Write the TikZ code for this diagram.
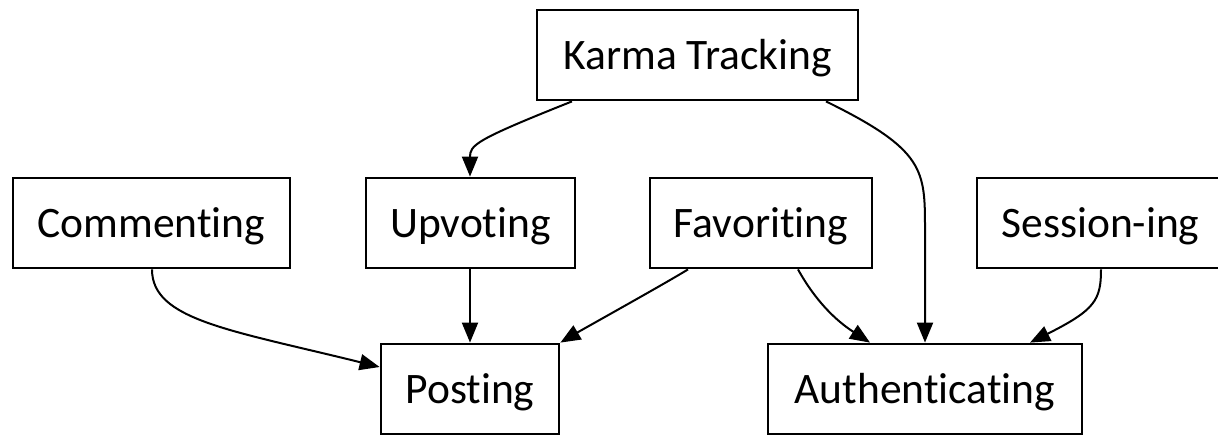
\documentclass[tikz,border=0pt]{standalone}
\usepackage{fontspec}
\setmainfont{Carlito}[Ligatures=NoCommon]
\usetikzlibrary{arrows.meta}
\begin{document}
\begin{tikzpicture}[x=1pt,y=-1pt,
  box/.style={draw=black, line width=2.8pt, rectangle, inner sep=0pt,
    minimum height=90pt, text height=28pt, text depth=0pt,
    font=\fontsize{43.5}{46}\selectfont},
  edge/.style={line width=2pt, -{Triangle[length=20pt,width=16pt]}}]
\useasboundingbox (0,0) rectangle (1218,437);
\begin{scope}
\clip (0,0) rectangle (1218,437);
\node[box, minimum width=321pt] (karma) at (697.5,55) {Karma Tracking};
\node[box, minimum width=277pt] (comm) at (151.5,223) {Commenting};
\node[box, minimum width=209pt] (upv) at (470.5,223) {Upvoting};
\node[box, minimum width=222pt] (fav) at (761,223) {Favoriting};
\node[box, minimum width=247pt] (sess) at (1100.5,223) {Session-ing};
\node[box, minimum width=178pt] (post) at (470,389) {Posting};
\node[box, minimum width=314pt] (auth) at (925,389) {Authenticating};
\end{scope}
\draw[edge] (karma.south -| 572,0) .. controls (475,140) and (470,145) .. (upv.north -| 470,0);
\draw[edge] (karma.south -| 826,0) .. controls (925,150) and (925,170) .. (925,230) -- (auth.north -| 925,0);
\draw[edge] (comm.south -| 152,0) .. controls (152,320) and (230,330) .. (post.west |- 0,367);
\draw[edge] (upv.south -| 470,0) -- (post.north -| 470,0);
\draw[edge] (fav.south -| 688,0) .. controls (666,283) and (585,328) .. (post.north east);
\draw[edge] (fav.south -| 798,0) .. controls (815,300) and (835,320) .. (auth.north -| 870,0);
\draw[edge] (sess.south -| 1101,0) .. controls (1101,300) and (1095,310) .. (auth.north -| 1030,0);
\end{tikzpicture}
\end{document}
